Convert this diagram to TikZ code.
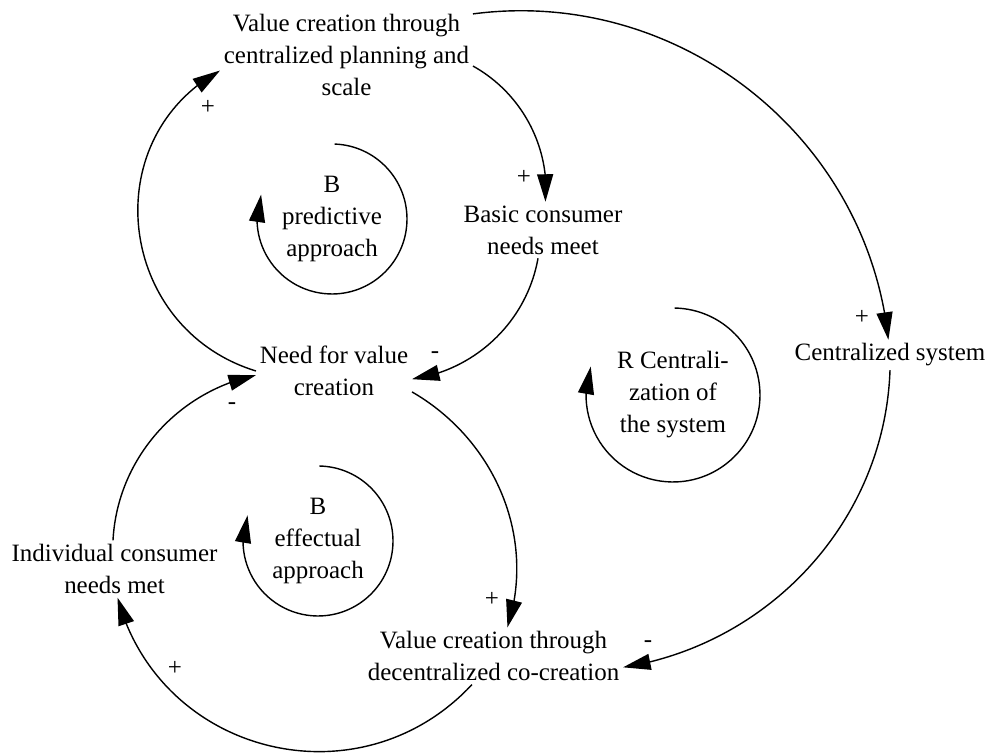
\documentclass[tikz,border=0pt]{standalone}
\usepackage{fontspec}
\setmainfont{Liberation Serif}
\usetikzlibrary{arrows.meta, bending}

\begin{document}
\begin{tikzpicture}[
        x=0.02cm, y=0.02cm,
        var/.style={align=center, inner sep=2pt, font=\fontsize{14.2}{18.2}\selectfont},
        loopname/.style={align=center, inner sep=0pt, font=\fontsize{14.2}{18.2}\selectfont},
        pol/.style={inner sep=0pt, font=\fontsize{14.2}{18.2}\selectfont},
        link/.style={-{Triangle[length=0.55cm, width=0.32cm, flex]}, line width=0.8pt},
        looparrow/.style={-{Triangle[length=0.55cm, width=0.32cm, flex]}, line width=0.8pt}
    ]
    \useasboundingbox (0,0) rectangle (991,-756);

    \node[var] (valc) at (346.5,-55) {Value creation through\\centralized planning and\\scale};
    \node[var] (basic) at (543,-230) {Basic consumer\\needs meet};
    \node[var] (need) at (334,-371) {Need for value\\creation};
    \node[var] (cent) at (890,-355) {Centralized system};
    \node[var] (indiv) at (114.5,-569) {Individual consumer\\needs met};
    \node[var] (decen) at (493.5,-656) {Value creation through\\decentralized co-creation};

    \node[loopname] (pred) at (332,-219) {B\\predictive\\approach};
    \node[loopname] (effect) at (318,-541) {B\\effectual\\approach};
    \node[loopname] (rloop) at (673,-395) {R Centrali-\\zation of\\the system};

    \draw[link] (need.west) to[out=163, in=209, looseness=1.22] (valc.187);
    \draw[link] (valc.355) to[out=-29, in=85, looseness=0.92] (basic.85);
    \draw[link] (basic.260) to[out=-100, in=8, looseness=0.94] (need.354);
    \draw[link] (need.345) to[out=-30, in=72, looseness=0.96] (decen.64);
    \draw[link] (decen.233) to[out=-133, in=-75, looseness=1.15] (indiv.276);
    \draw[link] (indiv.93) to[out=87, in=192, looseness=0.95] (need.183);
    \draw[link] (valc.18) to[out=7.5, in=96, looseness=1.0] (cent.96);
    \draw[link] (cent.south) to[out=-92, in=9, looseness=0.96] (decen.355);

    % Polarities
    \node[pol] (p1) at (208,-107) {+};
    \node[pol] (p2) at (524,-177) {+};
    \node[pol] (p3) at (435,-355) {-};
    \node[pol] (p4) at (232,-406) {-};
    \node[pol] (p5) at (492,-599) {+};
    \node[pol] (p6) at (648,-644) {-};
    \node[pol] (p7) at (175,-668) {+};
    \node[pol] (p8) at (862,-317) {+};

    % Loop arrows
    \draw[looparrow] ([shift={(88:1.5cm)}]pred.center) arc[start angle=88, end angle=-199, radius=1.5cm];
    \draw[looparrow] ([shift={(89:1.5cm)}]effect.center) arc[start angle=89, end angle=-200, radius=1.5cm];
    \draw[looparrow] ([shift={(89:1.74cm)}]rloop.center) arc[start angle=89, end angle=-199, radius=1.74cm];

\end{tikzpicture}
\end{document}
